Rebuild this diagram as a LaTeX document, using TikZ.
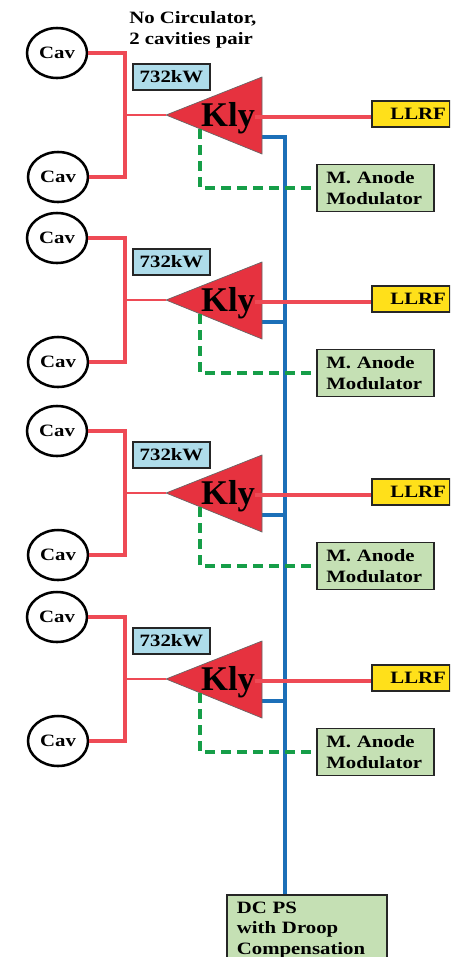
\documentclass[tikz,border=0pt]{standalone}
\usepackage{fontspec}
\setmainfont{Liberation Serif}[FakeStretch=1.2]
\newfontfamily\klyfont{Liberation Serif}
\usetikzlibrary{shapes.geometric,calc}
\definecolor{rfline}{HTML}{EE4A55}
\definecolor{rffill}{HTML}{E6323F}
\definecolor{dcblue}{HTML}{1C6FB8}
\definecolor{modgreen}{HTML}{169E48}
\definecolor{boxgreen}{HTML}{C5E0B4}
\definecolor{boxyellow}{HTML}{FFE01A}
\definecolor{boxblue}{HTML}{AEDCEA}
\tikzset{
  cav/.style={ellipse,draw,line width=1.9pt,minimum width=45pt,minimum height=37.5pt,inner sep=0pt,fill=white},
  boxed/.style={draw=black!85,line width=1.4pt,inner sep=0pt},
  kwbox/.style={boxed,fill=boxblue,minimum width=57.75pt,minimum height=19.5pt},
  llrfbox/.style={boxed,fill=boxyellow,minimum height=19.5pt,text width=52.5pt,inner xsep=3pt,align=right},
  mabox/.style={boxed,fill=boxgreen,minimum height=35.25pt,text width=73.75pt,inner xsep=7pt,align=left},
  dcbox/.style={boxed,fill=boxgreen,text width=105pt,inner xsep=7.5pt,inner ysep=5pt,align=left},
  klytext/.style={inner sep=0pt,font=\klyfont\bfseries\fontsize{26}{26}\selectfont},
  klytri/.style={fill=rffill,draw=black!60,line width=0.5pt},
  redline/.style={draw=rfline,line width=2.4pt},
  redthin/.style={draw=rfline,line width=1.8pt},
  blueline/.style={draw=dcblue,line width=2.4pt},
  greenline/.style={draw=modgreen,line width=2.3pt,dash pattern=on 7.5pt off 4.5pt},
}
\begin{document}
\begin{tikzpicture}[x=0.75pt,y=-0.75pt,font=\bfseries\fontsize{13}{15.5}\selectfont]
\useasboundingbox (0,0) rectangle (450,957);
\clip (0,0) rectangle (450,957);

\node[anchor=base west,inner sep=0pt] (title1) at (129,23) {No Circulator,};
\node[anchor=base west,inner sep=0pt] (title2) at (129,44) {2 cavities pair};

\node[dcbox,anchor=north west] (dcps) at (226,894) {DC PS\\with Droop\\Compensation};
\coordinate (dcin) at (285,894);

\foreach \i/\T in {1/115,2/300,3/493,4/679}{
  \coordinate (tip\i) at (166,\T);
  \coordinate (tr\i) at (262,\T-38);
  \coordinate (br\i) at (262,\T+39);
  \coordinate (bo\i) at (262,\T+22);
  \coordinate (rfo\i) at (255,\T+2);
  \coordinate (gs\i) at (200,\T+14);
  \coordinate (jn\i) at (125,\T);
  \ifnum\i=1
    \path[blueline] (bo\i) -| (dcin);
  \else
    \path[blueline] (bo\i) -- (bo\i -| dcin);
  \fi
  \path[klytri] (tip\i) -- (tr\i) -- (br\i) -- cycle;
  \node[klytext,anchor=base] (kly\i) at (228,\T+11) {Kly};
  \node[cav] (cavT\i) at (57,\T-62) {Cav};
  \node[cav] (cavB\i) at (58,\T+62) {Cav};
  \node[kwbox] (kw\i) at (171.5,\T-38) {732kW};
  \node[llrfbox,anchor=west] (llrf\i) at (371,\T-1) {LLRF};
  \node[mabox,anchor=west] (ma\i) at (316,\T+73) {M. Anode\\Modulator};
  \path[redline] (cavT\i.east) -| (jn\i) |- (cavB\i.east);
  \path[redthin] (jn\i) -- (tip\i);
  \path[redline] (rfo\i) -- (rfo\i -| llrf\i.west);
  \path[greenline] (gs\i) |- (ma\i.west);
}
\end{tikzpicture}
\end{document}
